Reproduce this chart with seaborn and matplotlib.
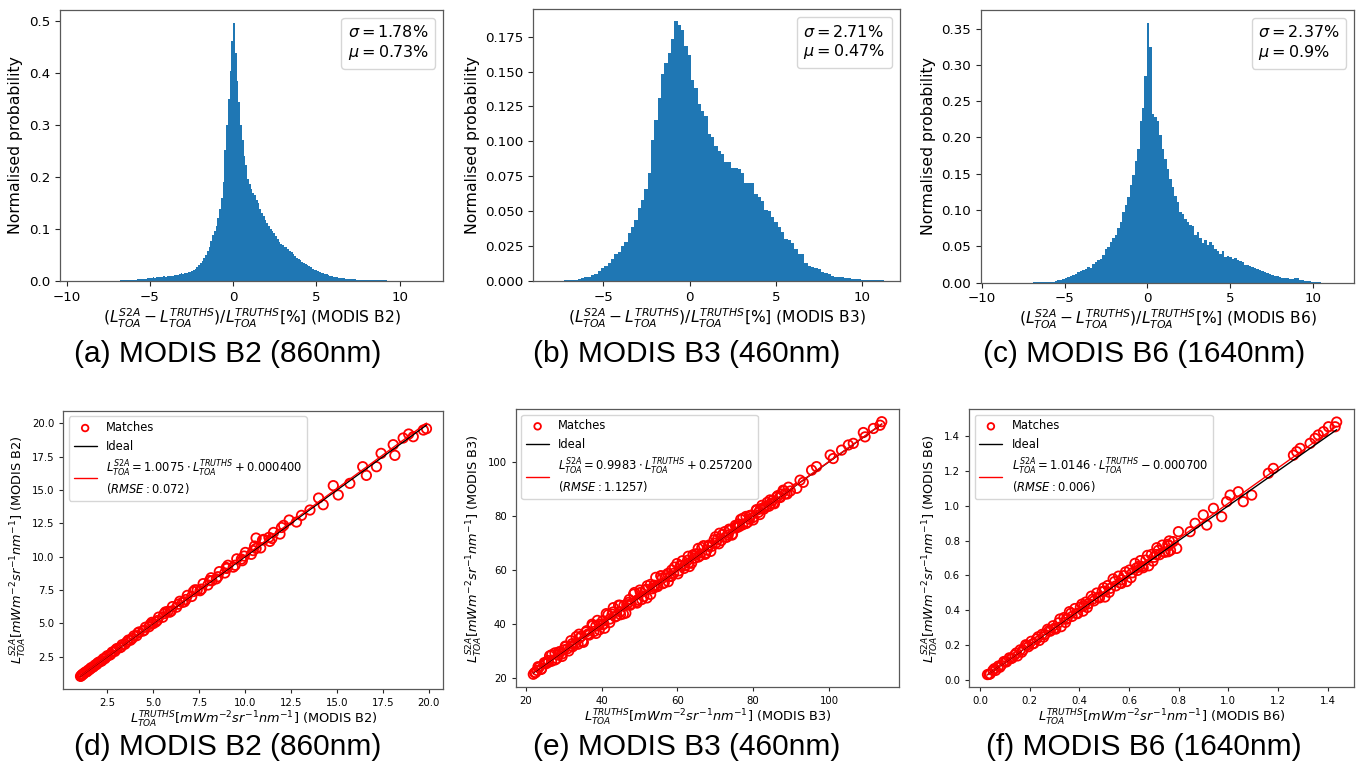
import numpy as np
import pandas as pd
import matplotlib as mpl
mpl.use('Agg')
import matplotlib.pyplot as plt
from matplotlib.lines import Line2D
from matplotlib.ticker import MultipleLocator
import seaborn as sns

# ---- histogram data (bin heights) ----
# (a) MODIS B2
a_left, a_width = -6.825, 0.105
a_heights = [0.001, 0.001, 0.001, 0.001, 0.002, 0.001, 0.002, 0.002, 0.002, 0.002,
             0.003, 0.003, 0.003, 0.004, 0.004, 0.004, 0.005, 0.005, 0.006, 0.007,
             0.006, 0.007, 0.008, 0.007, 0.008, 0.009, 0.008, 0.009, 0.009, 0.010,
             0.010, 0.011, 0.012, 0.012, 0.013, 0.015, 0.014, 0.015, 0.016, 0.017,
             0.018, 0.020, 0.022, 0.024, 0.027, 0.030, 0.034, 0.039, 0.044, 0.050,
             0.058, 0.066, 0.077, 0.088, 0.097, 0.106, 0.122, 0.138, 0.160, 0.190,
             0.252, 0.300, 0.350, 0.405, 0.462, 0.497, 0.440, 0.385, 0.345, 0.300,
             0.272, 0.240, 0.224, 0.196, 0.186, 0.178, 0.170, 0.165, 0.156, 0.150,
             0.138, 0.131, 0.125, 0.118, 0.112, 0.105, 0.101, 0.097, 0.092, 0.086,
             0.081, 0.075, 0.071, 0.069, 0.066, 0.065, 0.061, 0.058, 0.055, 0.051,
             0.049, 0.045, 0.042, 0.040, 0.037, 0.035, 0.032, 0.030, 0.028, 0.026,
             0.024, 0.022, 0.021, 0.019, 0.017, 0.016, 0.015, 0.014, 0.013, 0.011,
             0.010, 0.010, 0.008, 0.008, 0.007, 0.006, 0.006, 0.005, 0.005, 0.004,
             0.004, 0.003, 0.003, 0.003, 0.003, 0.002, 0.002, 0.002, 0.002, 0.002,
             0.002, 0.001, 0.002, 0.001, 0.001, 0.001, 0.001, 0.001, 0.001, 0.001,
             0.001, 0.001, 0.001]

# (b) MODIS B3
b_left, b_width = -7.259, 0.1931
b_heights = [0.0005, 0.0006, 0.0008, 0.001, 0.0015, 0.002, 0.0025, 0.003, 0.004, 0.005,
             0.007, 0.009, 0.011, 0.013, 0.016, 0.019, 0.021, 0.025, 0.028, 0.034,
             0.039, 0.044, 0.052, 0.058, 0.066, 0.077, 0.101, 0.115, 0.131, 0.148,
             0.156, 0.163, 0.173, 0.186, 0.183, 0.180, 0.168, 0.162, 0.144, 0.138,
             0.127, 0.122, 0.118, 0.105, 0.103, 0.097, 0.093, 0.091, 0.085, 0.085,
             0.081, 0.081, 0.080, 0.077, 0.070, 0.070, 0.070, 0.062, 0.060, 0.057,
             0.051, 0.050, 0.046, 0.042, 0.039, 0.035, 0.030, 0.029, 0.027, 0.023,
             0.019, 0.019, 0.013, 0.011, 0.010, 0.0095, 0.0084, 0.0067, 0.0055, 0.005,
             0.0036, 0.0031, 0.003, 0.0026, 0.0024, 0.0019, 0.0014, 0.0014, 0.0012, 0.001,
             0.0008, 0.0007, 0.0006, 0.0005, 0.0005, 0.0004]

# (c) MODIS B6
c_left, c_width = -6.93, 0.15
c_heights = [0.0005, 0.0005, 0.0005, 0.0005, 0.0007, 0.0008, 0.001, 0.0012, 0.0015, 0.002,
             0.003, 0.004, 0.005, 0.006, 0.008, 0.009, 0.011, 0.012, 0.014, 0.016,
             0.017, 0.019, 0.021, 0.020, 0.026, 0.028, 0.031, 0.032, 0.038, 0.047,
             0.049, 0.056, 0.061, 0.065, 0.075, 0.084, 0.097, 0.107, 0.118, 0.134,
             0.148, 0.168, 0.184, 0.223, 0.240, 0.285, 0.357, 0.324, 0.232, 0.228,
             0.223, 0.203, 0.184, 0.170, 0.157, 0.143, 0.132, 0.120, 0.111, 0.097,
             0.094, 0.088, 0.083, 0.079, 0.078, 0.065, 0.070, 0.061, 0.054, 0.059,
             0.052, 0.056, 0.052, 0.047, 0.043, 0.040, 0.043, 0.036, 0.037, 0.036,
             0.033, 0.034, 0.031, 0.030, 0.028, 0.025, 0.024, 0.023, 0.022, 0.020,
             0.019, 0.018, 0.016, 0.015, 0.013, 0.012, 0.010, 0.009, 0.009, 0.008,
             0.007, 0.006, 0.006, 0.005, 0.005, 0.006, 0.007, 0.004, 0.003, 0.002,
             0.002, 0.002, 0.0015, 0.001, 0.001, 0.001]

hist_stats = [(1.78, 0.73), (2.71, 0.47), (2.37, 0.9)]
bands = ['B2', 'B3', 'B6']
captions_top = ['(a) MODIS B2 (860nm)', '(b) MODIS B3 (460nm)', '(c) MODIS B6 (1640nm)']
captions_bot = ['(d) MODIS B2 (860nm)', '(e) MODIS B3 (460nm)', '(f) MODIS B6 (1640nm)']

# ---- scatter data (TRUTHS vs S2A) ----
x_d = [1.05, 1.08, 1.15, 1.2, 1.31, 1.38, 1.46, 1.55, 1.63, 1.72, 1.84, 1.93, 2.05, 2.16, 2.29,
       2.38, 2.51, 2.64, 2.77, 2.92, 3.04, 3.2, 3.31, 3.47, 3.65, 3.77, 3.95, 4.11, 4.24, 4.44,
       4.58, 4.78, 4.93, 5.14, 5.3, 5.52, 5.67, 5.9, 6.05, 6.28, 6.45, 6.7, 6.86, 7.1, 7.28,
       7.55, 7.72, 7.98, 8.15, 8.44, 8.6, 8.9, 9.07, 9.36, 9.55, 9.85, 10.02, 10.34, 10.52, 10.85,
       11.02, 11.35, 11.55, 11.9, 12.1, 5.0, 5.8, 6.6, 7.4, 8.2, 9.0, 9.8, 10.6, 11.3,
       12.4, 12.8, 13.07, 13.53, 14.0, 14.25, 14.8, 15.07, 15.7, 16.4, 16.6, 17.15, 17.4, 18.15,
       18.06, 18.6, 18.9, 19.15, 19.7, 19.87, 10.6,
       1.12, 1.26, 1.42, 1.59, 1.78, 1.98, 2.22, 2.45, 2.70, 2.98, 3.26, 3.56, 3.86, 4.18, 4.51,
       4.85, 5.22, 5.60, 5.98, 6.37, 6.78, 7.19, 7.63, 8.07, 8.52, 8.98, 9.46, 9.95, 10.44, 10.95,
       11.46, 11.98]
y_d = [1.03, 1.06, 1.18, 1.19, 1.34, 1.37, 1.49, 1.54, 1.68, 1.71, 1.88, 1.92, 2.10, 2.15, 2.35,
       2.36, 2.58, 2.62, 2.85, 2.90, 3.12, 3.18, 3.40, 3.44, 3.75, 3.74, 4.06, 4.08, 4.36, 4.42,
       4.71, 4.75, 5.08, 5.10, 5.47, 5.46, 5.86, 5.84, 6.26, 6.22, 6.66, 6.62, 7.10, 7.02, 7.52,
       7.45, 7.98, 7.88, 8.42, 8.34, 8.88, 8.78, 9.36, 9.22, 9.84, 9.70, 10.32, 10.18, 10.80, 10.66,
       11.30, 11.15, 11.82, 11.70, 12.35, 4.98, 5.90, 6.58, 7.50, 8.20, 9.12, 9.82, 10.62, 11.45,
       12.75, 12.6, 13.1, 13.5, 14.4, 13.9, 15.33, 14.63, 15.5, 16.75, 16.1, 16.75, 17.75, 17.6,
       18.4, 18.9, 19.2, 19.0, 19.5, 19.6, 11.4,
       1.12, 1.29, 1.40, 1.61, 1.78, 2.03, 2.20, 2.49, 2.69, 3.05, 3.23, 3.60, 3.87, 4.30, 4.48,
       4.94, 5.21, 5.73, 5.92, 6.44, 6.79, 7.39, 7.57, 8.21, 8.50, 9.19, 9.36, 10.05, 10.46, 11.25,
       11.37, 12.19]

x_e = [22.0, 22.6, 23.5, 24.1, 24.9, 25.4, 26.3, 26.8, 27.7, 28.2, 29.1, 29.6, 30.5, 31.0, 31.9,
       32.4, 33.3, 33.8, 34.7, 35.2, 36.1, 36.6, 37.5, 38.0, 38.9, 39.4, 40.3, 40.8, 41.7, 42.2,
       43.1, 43.6, 44.5, 45.0, 45.9, 46.4, 47.3, 47.8, 48.7, 49.2, 50.1, 50.6, 51.5, 52.0, 52.9,
       53.4, 54.3, 54.8, 55.7, 56.2, 57.1, 57.6, 58.5, 59.0, 59.9, 60.4, 61.3, 61.8, 62.7, 63.2,
       64.1, 64.6, 65.5, 66.0, 66.9, 67.4, 68.3, 68.8, 69.7, 70.2, 71.1, 71.6, 72.5, 73.0, 73.9,
       74.4, 75.3, 75.8, 76.7, 77.2, 78.1, 78.6, 79.5, 80.0, 80.9, 81.4, 82.3, 82.8, 83.7, 84.2,
       85.1, 85.6, 86.5, 87.0, 87.9, 88.4, 89.3, 89.8,
       30.0, 32.0, 34.2, 36.3, 38.5, 40.6, 42.8, 44.9, 47.0, 49.5, 51.8, 53.9, 56.0, 58.2, 60.8,
       63.0, 65.2, 67.8, 70.6, 73.4, 76.2, 79.0, 81.9, 84.6, 87.4, 23.0, 25.9, 28.6,
       92.35, 91.5, 95.4, 96.7, 100.3, 101.1, 105.1, 106.4, 109.05, 109.5, 111.7, 113.9, 113.45,
       103.3, 93.2,
       22.35, 23.25, 24.15, 25.05, 25.95, 26.85, 27.75, 28.65, 29.55, 30.45, 31.35, 32.25, 33.15,
       34.05, 34.95, 35.85, 36.75, 37.65, 38.55, 39.45, 40.35, 41.25, 42.15, 43.05, 43.95, 44.85,
       45.75, 46.65, 47.55, 48.45, 49.35, 50.25, 51.15, 52.05, 52.95, 53.85, 54.75, 55.65, 56.55,
       57.45, 58.35, 59.25, 60.15, 61.05, 61.95, 62.85, 63.75, 64.65, 65.55, 66.45, 67.35, 68.25,
       69.15, 70.05, 70.95, 71.85, 72.75, 73.65, 74.55, 75.45, 76.35, 77.25, 78.15, 79.05, 79.95,
       80.85, 81.75, 82.65, 83.55, 84.45, 85.35, 86.25, 87.15, 88.05, 88.95]
y_e = [21.5, 22.1, 24.0, 23.3, 25.8, 25.4, 28.3, 26.3, 29.4, 27.3, 29.9, 28.1, 31.7, 30.9, 33.9,
       31.7, 35.4, 32.6, 35.6, 33.3, 37.6, 36.4, 40.0, 37.3, 41.4, 37.9, 41.3, 38.5, 43.5, 41.9,
       46.1, 42.7, 47.0, 43.5, 46.9, 44.1, 49.1, 47.5, 51.7, 48.3, 52.6, 49.1, 52.5, 49.7, 54.7,
       53.1, 57.3, 53.9, 57.8, 55.0, 58.0, 55.7, 60.0, 58.8, 62.4, 59.7, 63.4, 60.6, 63.6, 61.3,
       65.6, 64.4, 68.0, 65.3, 69.0, 66.2, 69.2, 66.9, 71.2, 70.0, 73.6, 70.9, 74.2, 72.1, 74.7,
       72.9, 76.5, 75.7, 78.7, 76.7, 79.8, 77.7, 80.3, 78.5, 82.1, 81.3, 83.9, 82.5, 85.0, 83.6,
       85.7, 84.5, 87.5, 87.0, 89.5, 88.1, 90.6, 89.2,
       30.5, 31.9, 34.9, 36.2, 39.3, 40.1, 43.7, 44.6, 48.0, 49.0, 52.9, 53.5, 57.0, 57.8, 61.7,
       62.6, 66.0, 67.4, 71.4, 73.0, 77.0, 78.8, 82.6, 84.5, 88.1, 22.9, 26.6, 28.6,
       93.2, 90.2, 96.9, 98.2, 102.5, 101.2, 106.2, 106.8, 110.8, 109.2, 112.3, 114.8, 113.5,
       104.3, 92.4,
       22.1, 24.3, 23.5, 25.4, 25.9, 28.7, 26.8, 29.7, 29.0, 31.9, 30.1, 32.8, 32.8,
       36.3, 33.7, 37.1, 36.0, 39.5, 36.6, 40.0, 39.8, 43.9, 40.6, 44.5, 43.0, 47.0,
       43.8, 47.2, 47.0, 51.1, 47.8, 51.7, 50.2, 54.2, 51.0, 54.4, 54.2, 57.9, 55.3,
       58.7, 57.6, 61.1, 58.6, 61.6, 61.6, 65.1, 62.5, 65.9, 64.8, 68.3, 65.8, 68.8,
       68.8, 72.3, 69.7, 73.1, 72.2, 75.1, 73.3, 75.9, 76.1, 79.1, 77.2, 80.1, 79.4,
       82.3, 80.5, 83.0, 83.4, 85.9, 84.7, 87.1, 86.8, 89.2, 88.1]

x_f = [0.030, 0.041, 0.052, 0.063, 0.074, 0.085, 0.096, 0.107, 0.118, 0.129, 0.140, 0.151,
       0.162, 0.173, 0.184, 0.195, 0.206, 0.217, 0.228, 0.239, 0.250, 0.261, 0.272, 0.283,
       0.294, 0.305, 0.316, 0.327, 0.338, 0.349, 0.360, 0.371, 0.382, 0.393, 0.404, 0.415,
       0.426, 0.437, 0.448, 0.459, 0.470, 0.481, 0.492, 0.503, 0.514, 0.525, 0.536, 0.547,
       0.558, 0.569, 0.580, 0.591, 0.602, 0.613, 0.624, 0.635, 0.646, 0.657, 0.668, 0.679,
       0.690, 0.701, 0.712, 0.723, 0.734, 0.745, 0.756, 0.767,
       0.35, 0.42, 0.50, 0.57, 0.64, 0.71, 0.76,
       1.436, 1.43, 1.403, 1.383, 1.362, 1.349, 1.329, 1.289, 1.275, 1.262, 1.181, 1.161, 1.094,
       1.06, 1.04, 1.007, 0.993, 0.973, 0.94, 0.899, 0.913, 0.866, 0.846, 0.799, 0.792, 0.758,
       0.778,
       0.036, 0.058, 0.080, 0.102, 0.124, 0.146, 0.168, 0.190, 0.212, 0.234, 0.256, 0.278,
       0.300, 0.322, 0.344, 0.366, 0.388, 0.410, 0.432, 0.454, 0.476, 0.498, 0.520, 0.542,
       0.564, 0.586, 0.608, 0.630, 0.652, 0.674, 0.696, 0.718, 0.740, 0.762]
y_f = [0.031, 0.035, 0.055, 0.055, 0.080, 0.084, 0.106, 0.104, 0.127, 0.125, 0.144, 0.138,
       0.173, 0.172, 0.202, 0.191, 0.222, 0.210, 0.236, 0.227, 0.262, 0.261, 0.291, 0.280,
       0.311, 0.292, 0.328, 0.306, 0.358, 0.349, 0.392, 0.365, 0.410, 0.381, 0.418, 0.395,
       0.447, 0.438, 0.481, 0.454, 0.499, 0.471, 0.507, 0.476, 0.542, 0.526, 0.580, 0.540,
       0.596, 0.554, 0.599, 0.565, 0.631, 0.615, 0.669, 0.629, 0.685, 0.644, 0.688, 0.655,
       0.720, 0.704, 0.759, 0.719, 0.774, 0.733, 0.778, 0.744,
       0.354, 0.427, 0.510, 0.575, 0.652, 0.720, 0.771,
       1.480, 1.453, 1.453, 1.425, 1.406, 1.386, 1.358, 1.329, 1.310, 1.290, 1.214, 1.186, 1.061,
       1.023, 1.080, 1.061, 1.023, 0.937, 0.985, 0.947, 0.889, 0.899, 0.851, 0.851, 0.755, 0.736,
       0.794,
       0.032, 0.065, 0.073, 0.104, 0.123, 0.155, 0.159, 0.199, 0.207, 0.248, 0.246, 0.284,
       0.297, 0.350, 0.330, 0.383, 0.381, 0.435, 0.416, 0.464, 0.475, 0.529, 0.503, 0.565,
       0.556, 0.620, 0.587, 0.643, 0.651, 0.715, 0.682, 0.744, 0.734, 0.798]

fits = [(1.0075, 0.0004, '+ 0.000400', '0.072'),
        (0.9983, 0.2572, '+ 0.257200', '1.1257'),
        (1.0146, -0.0007, '- 0.000700', '0.006')]

sns.set_style('ticks')
plt.rcParams['font.family'] = ['DejaVu Sans']
plt.rcParams['axes.edgecolor'] = '0.35'
plt.rcParams['axes.linewidth'] = 0.9
plt.rcParams['text.color'] = 'black'
plt.rcParams['axes.labelcolor'] = 'black'
plt.rcParams['xtick.labelcolor'] = 'black'
plt.rcParams['ytick.labelcolor'] = 'black'

fig = plt.figure(figsize=(13.6, 7.74), dpi=100)

top_pos = [[0.0441, 0.6370, 0.2816, 0.3501],
           [0.3921, 0.6370, 0.2696, 0.3510],
           [0.7213, 0.6348, 0.2745, 0.3523]]
bot_pos = [[0.0465, 0.1098, 0.2794, 0.3596],
           [0.3792, 0.1120, 0.2821, 0.3596],
           [0.7125, 0.1120, 0.2833, 0.3596]]
top_xlim = [(-10.4, 12.6), (-9.06, 12.18), (-10.04, 12.47)]
top_ylim = [(0, 0.522), (0, 0.1946), (0, 0.3755)]
bot_xlim = [(0.11, 20.78), (17.36, 118.55), (-0.0443, 1.507)]
bot_ylim = [(0.08, 20.95), (16.68, 119.5), (-0.042, 1.555)]
cap_x = [0.1676, 0.505, 0.841]

hists = [(a_left, a_width, a_heights), (b_left, b_width, b_heights), (c_left, c_width, c_heights)]
scat = [(x_d, y_d), (x_e, y_e), (x_f, y_f)]

for i in range(3):
    # ---- histogram row ----
    left, width, heights = hists[i]
    edges = left + width * np.arange(len(heights) + 1)
    df = pd.DataFrame({'diff': edges[:-1] + width / 2, 'prob': heights})
    ax = fig.add_axes(top_pos[i])
    # bins passed as a plain list: seaborn 0.13 compares bins == "auto" when weights are used
    sns.histplot(data=df, x='diff', weights='prob', bins=list(edges), color='#1f77b4',
                 alpha=1, linewidth=0, ax=ax)
    ax.set_xlim(*top_xlim[i])
    ax.set_ylim(*top_ylim[i])
    ax.xaxis.set_major_locator(MultipleLocator(5))
    ax.set_xlabel(r'$(L_{TOA}^{S2A}-L_{TOA}^{TRUTHS})/L_{TOA}^{TRUTHS}[\%]$ (MODIS '
                  + bands[i] + ')', fontsize=11.2, labelpad=2)
    ax.set_ylabel('Normalised probability', fontsize=11.3)
    ax.tick_params(labelsize=9.6)
    sd, mu = hist_stats[i]
    lab = r'$\sigma = ' + str(sd) + r'\%$' + '\n' + r'$\mu = ' + str(mu) + r'\%$'
    ax.legend(handles=[Line2D([], [], ls='none')], labels=[lab], loc='upper right',
              handlelength=0, handletextpad=0, fontsize=11.5)
    fig.text(cap_x[i], 0.543, captions_top[i], ha='center', va='center',
             fontsize=21.5, family='Liberation Sans')

    # ---- scatter row ----
    xs, ys = scat[i]
    slope, icpt, icpt_txt, rmse = fits[i]
    ax = fig.add_axes(bot_pos[i])
    sns.scatterplot(x=xs, y=ys, ax=ax, s=46, marker='o', facecolor='none',
                    edgecolor='red', linewidth=1.3, label='Matches')
    lo, hi = min(xs), max(xs)
    sns.lineplot(x=[lo, hi], y=[lo, hi], color='black', linewidth=1.0, ax=ax, label='Ideal')
    fit_lab = (r'$L_{TOA}^{S2A} = %.4f \cdot L_{TOA}^{TRUTHS} %s$' % (slope, icpt_txt)
               + '\n' + r'$(RMSE: %s)$' % rmse)
    sns.lineplot(x=[lo, hi], y=[slope * lo + icpt, slope * hi + icpt], color='red',
                 linewidth=1.0, ax=ax, label=fit_lab)
    ax.set_xlim(*bot_xlim[i])
    ax.set_ylim(*bot_ylim[i])
    ax.set_xlabel(r'$L_{TOA}^{TRUTHS}[mWm^{-2}sr^{-1}nm^{-1}]$ (MODIS ' + bands[i] + ')',
                  fontsize=9.3, labelpad=1)
    ax.set_ylabel(r'$L_{TOA}^{S2A}[mWm^{-2}sr^{-1}nm^{-1}]$ (MODIS ' + bands[i] + ')',
                  fontsize=9.3, labelpad=2)
    ax.tick_params(labelsize=7.3, length=3)
    ax.legend(loc='upper left', fontsize=8.3, markerscale=0.7)
    fig.text(cap_x[i], 0.035, captions_bot[i], ha='center', va='center',
             fontsize=21.5, family='Liberation Sans')

plt.savefig('out.png', dpi=100)
